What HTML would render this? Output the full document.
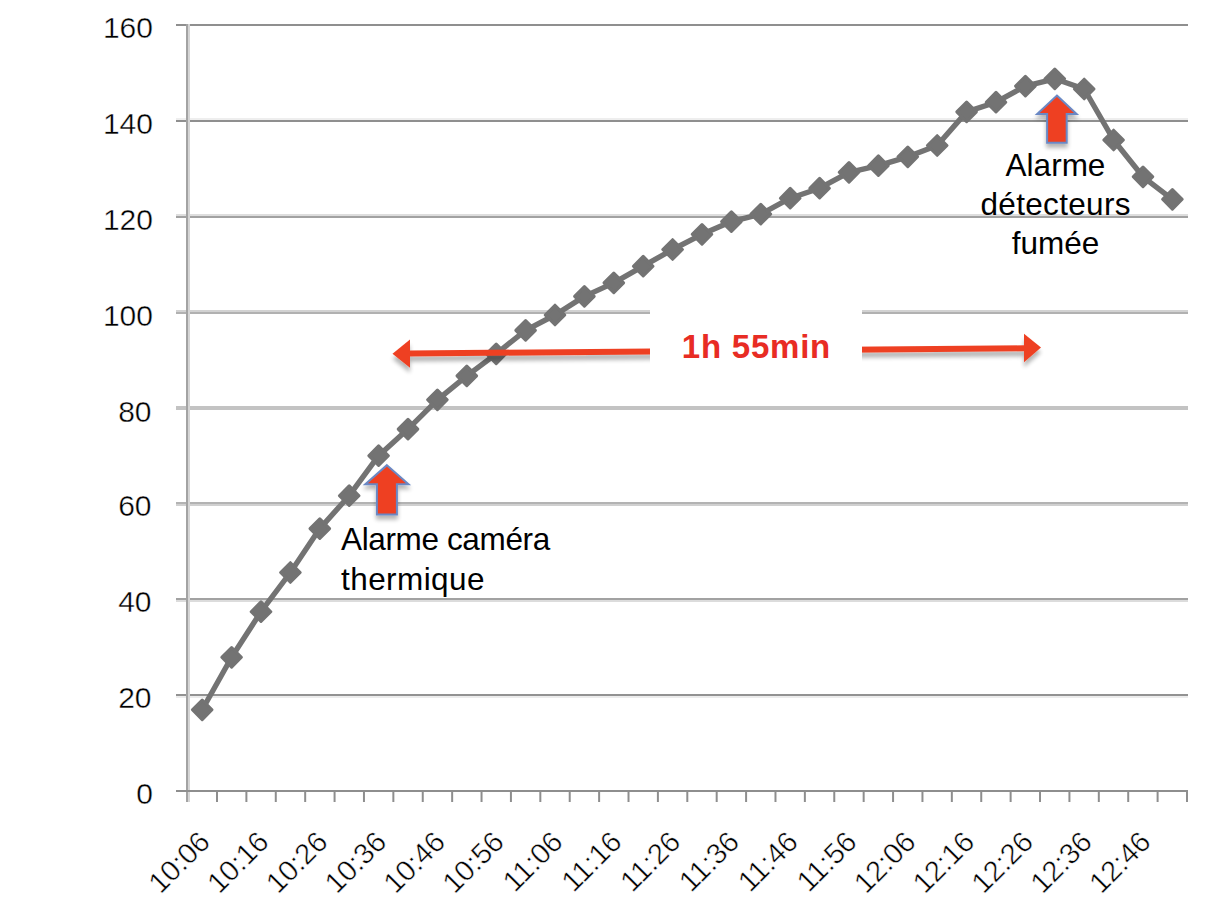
<!DOCTYPE html>
<html><head><meta charset="utf-8"><style>
html,body{margin:0;padding:0;background:#fff;width:1220px;height:922px;overflow:hidden}
svg{display:block}
text{font-family:"Liberation Sans",sans-serif}
</style></head><body>
<svg width="1220" height="922" viewBox="0 0 1220 922">
<defs>
<filter id="sh" x="-20%" y="-50%" width="140%" height="300%"><feGaussianBlur in="SourceAlpha" stdDeviation="2"/><feOffset dx="0" dy="5"/><feComponentTransfer><feFuncA type="linear" slope="0.3"/></feComponentTransfer><feMerge><feMergeNode/><feMergeNode in="SourceGraphic"/></feMerge></filter>
<filter id="sh2" x="-50%" y="-50%" width="200%" height="200%"><feGaussianBlur in="SourceAlpha" stdDeviation="2"/><feOffset dx="0" dy="4"/><feComponentTransfer><feFuncA type="linear" slope="0.3"/></feComponentTransfer><feMerge><feMergeNode/><feMergeNode in="SourceGraphic"/></feMerge></filter>
</defs>

<rect x="176" y="24" width="1012" height="2" fill="#8f8f8f"/>
<rect x="176" y="118" width="1012" height="2" fill="#eeeeee"/>
<rect x="176" y="120" width="1012" height="2" fill="#8f8f8f"/>
<rect x="176" y="214" width="1012" height="2" fill="#dedede"/>
<rect x="176" y="216" width="1012" height="2" fill="#a2a2a2"/>
<rect x="176" y="310" width="1012" height="2" fill="#d2d2d2"/>
<rect x="176" y="312" width="1012" height="2" fill="#b1b1b1"/>
<rect x="176" y="406" width="1012" height="4" fill="#c3c3c3"/>
<rect x="176" y="502" width="1012" height="2" fill="#b3b3b3"/>
<rect x="176" y="504" width="1012" height="2" fill="#d0d0d0"/>
<rect x="176" y="598" width="1012" height="2" fill="#a2a2a2"/>
<rect x="176" y="600" width="1012" height="2" fill="#dcdcdc"/>
<rect x="176" y="694" width="1012" height="2" fill="#929292"/>
<rect x="176" y="696" width="1012" height="2" fill="#ececec"/>
<rect x="186" y="24" width="2" height="778" fill="#a3a3a3"/><rect x="188" y="24" width="2" height="778" fill="#d5d5d5"/>
<rect x="176" y="790" width="1012" height="2" fill="#8e8e8e"/>
<line x1="216.99" y1="792" x2="216.99" y2="802" stroke="#8e8e8e" stroke-width="2"/>
<line x1="246.39" y1="792" x2="246.39" y2="802" stroke="#8e8e8e" stroke-width="2"/>
<line x1="275.78" y1="792" x2="275.78" y2="802" stroke="#8e8e8e" stroke-width="2"/>
<line x1="305.18" y1="792" x2="305.18" y2="802" stroke="#8e8e8e" stroke-width="2"/>
<line x1="334.57" y1="792" x2="334.57" y2="802" stroke="#8e8e8e" stroke-width="2"/>
<line x1="363.96" y1="792" x2="363.96" y2="802" stroke="#8e8e8e" stroke-width="2"/>
<line x1="393.36" y1="792" x2="393.36" y2="802" stroke="#8e8e8e" stroke-width="2"/>
<line x1="422.75" y1="792" x2="422.75" y2="802" stroke="#8e8e8e" stroke-width="2"/>
<line x1="452.15" y1="792" x2="452.15" y2="802" stroke="#8e8e8e" stroke-width="2"/>
<line x1="481.54" y1="792" x2="481.54" y2="802" stroke="#8e8e8e" stroke-width="2"/>
<line x1="510.93" y1="792" x2="510.93" y2="802" stroke="#8e8e8e" stroke-width="2"/>
<line x1="540.33" y1="792" x2="540.33" y2="802" stroke="#8e8e8e" stroke-width="2"/>
<line x1="569.72" y1="792" x2="569.72" y2="802" stroke="#8e8e8e" stroke-width="2"/>
<line x1="599.12" y1="792" x2="599.12" y2="802" stroke="#8e8e8e" stroke-width="2"/>
<line x1="628.51" y1="792" x2="628.51" y2="802" stroke="#8e8e8e" stroke-width="2"/>
<line x1="657.90" y1="792" x2="657.90" y2="802" stroke="#8e8e8e" stroke-width="2"/>
<line x1="687.30" y1="792" x2="687.30" y2="802" stroke="#8e8e8e" stroke-width="2"/>
<line x1="716.69" y1="792" x2="716.69" y2="802" stroke="#8e8e8e" stroke-width="2"/>
<line x1="746.09" y1="792" x2="746.09" y2="802" stroke="#8e8e8e" stroke-width="2"/>
<line x1="775.48" y1="792" x2="775.48" y2="802" stroke="#8e8e8e" stroke-width="2"/>
<line x1="804.87" y1="792" x2="804.87" y2="802" stroke="#8e8e8e" stroke-width="2"/>
<line x1="834.27" y1="792" x2="834.27" y2="802" stroke="#8e8e8e" stroke-width="2"/>
<line x1="863.66" y1="792" x2="863.66" y2="802" stroke="#8e8e8e" stroke-width="2"/>
<line x1="893.06" y1="792" x2="893.06" y2="802" stroke="#8e8e8e" stroke-width="2"/>
<line x1="922.45" y1="792" x2="922.45" y2="802" stroke="#8e8e8e" stroke-width="2"/>
<line x1="951.84" y1="792" x2="951.84" y2="802" stroke="#8e8e8e" stroke-width="2"/>
<line x1="981.24" y1="792" x2="981.24" y2="802" stroke="#8e8e8e" stroke-width="2"/>
<line x1="1010.63" y1="792" x2="1010.63" y2="802" stroke="#8e8e8e" stroke-width="2"/>
<line x1="1040.03" y1="792" x2="1040.03" y2="802" stroke="#8e8e8e" stroke-width="2"/>
<line x1="1069.42" y1="792" x2="1069.42" y2="802" stroke="#8e8e8e" stroke-width="2"/>
<line x1="1098.81" y1="792" x2="1098.81" y2="802" stroke="#8e8e8e" stroke-width="2"/>
<line x1="1128.21" y1="792" x2="1128.21" y2="802" stroke="#8e8e8e" stroke-width="2"/>
<line x1="1157.60" y1="792" x2="1157.60" y2="802" stroke="#8e8e8e" stroke-width="2"/>
<line x1="1187.00" y1="792" x2="1187.00" y2="802" stroke="#8e8e8e" stroke-width="2"/>
<text x="153" y="803.5" font-size="30" text-anchor="end" fill="#000" stroke="#fff" stroke-width="0.4">0</text>
<text x="151.5" y="708.0" font-size="30" text-anchor="end" fill="#000" stroke="#fff" stroke-width="0.4">20</text>
<text x="151.5" y="612.0" font-size="30" text-anchor="end" fill="#000" stroke="#fff" stroke-width="0.4">40</text>
<text x="151.5" y="515.8" font-size="30" text-anchor="end" fill="#000" stroke="#fff" stroke-width="0.4">60</text>
<text x="151.5" y="422.2" font-size="30" text-anchor="end" fill="#000" stroke="#fff" stroke-width="0.4">80</text>
<text x="153" y="326.4" font-size="30" text-anchor="end" fill="#000" stroke="#fff" stroke-width="0.4">100</text>
<text x="153" y="230.1" font-size="30" text-anchor="end" fill="#000" stroke="#fff" stroke-width="0.4">120</text>
<text x="153" y="134.1" font-size="30" text-anchor="end" fill="#000" stroke="#fff" stroke-width="0.4">140</text>
<text x="153" y="38.3" font-size="30" text-anchor="end" fill="#000" stroke="#fff" stroke-width="0.4">160</text>
<text transform="translate(211.7,843.5) rotate(-45)" font-size="29" text-anchor="end" fill="#000" stroke="#fff" stroke-width="0.5">10:06</text>
<text transform="translate(270.5,843.5) rotate(-45)" font-size="29" text-anchor="end" fill="#000" stroke="#fff" stroke-width="0.5">10:16</text>
<text transform="translate(329.3,843.5) rotate(-45)" font-size="29" text-anchor="end" fill="#000" stroke="#fff" stroke-width="0.5">10:26</text>
<text transform="translate(388.1,843.5) rotate(-45)" font-size="29" text-anchor="end" fill="#000" stroke="#fff" stroke-width="0.5">10:36</text>
<text transform="translate(446.9,843.5) rotate(-45)" font-size="29" text-anchor="end" fill="#000" stroke="#fff" stroke-width="0.5">10:46</text>
<text transform="translate(505.7,843.5) rotate(-45)" font-size="29" text-anchor="end" fill="#000" stroke="#fff" stroke-width="0.5">10:56</text>
<text transform="translate(564.5,843.5) rotate(-45)" font-size="29" text-anchor="end" fill="#000" stroke="#fff" stroke-width="0.5">11:06</text>
<text transform="translate(623.3,843.5) rotate(-45)" font-size="29" text-anchor="end" fill="#000" stroke="#fff" stroke-width="0.5">11:16</text>
<text transform="translate(682.1,843.5) rotate(-45)" font-size="29" text-anchor="end" fill="#000" stroke="#fff" stroke-width="0.5">11:26</text>
<text transform="translate(740.9,843.5) rotate(-45)" font-size="29" text-anchor="end" fill="#000" stroke="#fff" stroke-width="0.5">11:36</text>
<text transform="translate(799.7,843.5) rotate(-45)" font-size="29" text-anchor="end" fill="#000" stroke="#fff" stroke-width="0.5">11:46</text>
<text transform="translate(858.5,843.5) rotate(-45)" font-size="29" text-anchor="end" fill="#000" stroke="#fff" stroke-width="0.5">11:56</text>
<text transform="translate(917.3,843.5) rotate(-45)" font-size="29" text-anchor="end" fill="#000" stroke="#fff" stroke-width="0.5">12:06</text>
<text transform="translate(976.1,843.5) rotate(-45)" font-size="29" text-anchor="end" fill="#000" stroke="#fff" stroke-width="0.5">12:16</text>
<text transform="translate(1034.9,843.5) rotate(-45)" font-size="29" text-anchor="end" fill="#000" stroke="#fff" stroke-width="0.5">12:26</text>
<text transform="translate(1093.7,843.5) rotate(-45)" font-size="29" text-anchor="end" fill="#000" stroke="#fff" stroke-width="0.5">12:36</text>
<text transform="translate(1152.5,843.5) rotate(-45)" font-size="29" text-anchor="end" fill="#000" stroke="#fff" stroke-width="0.5">12:46</text>
<polyline points="202.2,709.8 231.6,657.3 261.0,611.7 290.4,572.5 319.8,528.6 349.2,495.7 378.6,455.7 408.0,429.1 437.4,399.8 466.8,375.9 496.2,353.8 525.6,330.4 555.0,315.0 584.4,296.4 613.8,282.9 643.2,266.2 672.6,249.5 702.0,234.3 731.4,221.6 760.8,214.1 790.2,198.2 819.6,188.2 849.0,172.3 878.4,165.7 907.8,156.8 937.2,145.5 966.6,111.9 996.0,102.2 1025.4,86.1 1054.8,78.8 1084.2,89.0 1113.6,140.0 1143.0,176.8 1172.4,199.3" fill="none" stroke="#737373" stroke-width="5.4" stroke-linejoin="round"/>
<path d="M202.2 700.0L212.0 709.8L202.2 719.6L192.4 709.8Z" fill="#737373" stroke="#737373" stroke-width="3" stroke-linejoin="round"/>
<path d="M231.6 647.5L241.4 657.3L231.6 667.1L221.8 657.3Z" fill="#737373" stroke="#737373" stroke-width="3" stroke-linejoin="round"/>
<path d="M261.0 601.9L270.8 611.7L261.0 621.5L251.2 611.7Z" fill="#737373" stroke="#737373" stroke-width="3" stroke-linejoin="round"/>
<path d="M290.4 562.7L300.2 572.5L290.4 582.3L280.6 572.5Z" fill="#737373" stroke="#737373" stroke-width="3" stroke-linejoin="round"/>
<path d="M319.8 518.8L329.6 528.6L319.8 538.4L310.0 528.6Z" fill="#737373" stroke="#737373" stroke-width="3" stroke-linejoin="round"/>
<path d="M349.2 485.9L359.0 495.7L349.2 505.5L339.4 495.7Z" fill="#737373" stroke="#737373" stroke-width="3" stroke-linejoin="round"/>
<path d="M378.6 445.9L388.4 455.7L378.6 465.5L368.8 455.7Z" fill="#737373" stroke="#737373" stroke-width="3" stroke-linejoin="round"/>
<path d="M408.0 419.3L417.8 429.1L408.0 438.9L398.2 429.1Z" fill="#737373" stroke="#737373" stroke-width="3" stroke-linejoin="round"/>
<path d="M437.4 390.0L447.2 399.8L437.4 409.6L427.6 399.8Z" fill="#737373" stroke="#737373" stroke-width="3" stroke-linejoin="round"/>
<path d="M466.8 366.1L476.6 375.9L466.8 385.7L457.0 375.9Z" fill="#737373" stroke="#737373" stroke-width="3" stroke-linejoin="round"/>
<path d="M496.2 344.0L506.0 353.8L496.2 363.6L486.4 353.8Z" fill="#737373" stroke="#737373" stroke-width="3" stroke-linejoin="round"/>
<path d="M525.6 320.6L535.4 330.4L525.6 340.2L515.8 330.4Z" fill="#737373" stroke="#737373" stroke-width="3" stroke-linejoin="round"/>
<path d="M555.0 305.2L564.8 315.0L555.0 324.8L545.2 315.0Z" fill="#737373" stroke="#737373" stroke-width="3" stroke-linejoin="round"/>
<path d="M584.4 286.6L594.2 296.4L584.4 306.2L574.6 296.4Z" fill="#737373" stroke="#737373" stroke-width="3" stroke-linejoin="round"/>
<path d="M613.8 273.1L623.6 282.9L613.8 292.7L604.0 282.9Z" fill="#737373" stroke="#737373" stroke-width="3" stroke-linejoin="round"/>
<path d="M643.2 256.4L653.0 266.2L643.2 276.0L633.4 266.2Z" fill="#737373" stroke="#737373" stroke-width="3" stroke-linejoin="round"/>
<path d="M672.6 239.7L682.4 249.5L672.6 259.3L662.8 249.5Z" fill="#737373" stroke="#737373" stroke-width="3" stroke-linejoin="round"/>
<path d="M702.0 224.5L711.8 234.3L702.0 244.1L692.2 234.3Z" fill="#737373" stroke="#737373" stroke-width="3" stroke-linejoin="round"/>
<path d="M731.4 211.8L741.2 221.6L731.4 231.4L721.6 221.6Z" fill="#737373" stroke="#737373" stroke-width="3" stroke-linejoin="round"/>
<path d="M760.8 204.3L770.6 214.1L760.8 223.9L751.0 214.1Z" fill="#737373" stroke="#737373" stroke-width="3" stroke-linejoin="round"/>
<path d="M790.2 188.4L800.0 198.2L790.2 208.0L780.4 198.2Z" fill="#737373" stroke="#737373" stroke-width="3" stroke-linejoin="round"/>
<path d="M819.6 178.4L829.4 188.2L819.6 198.0L809.8 188.2Z" fill="#737373" stroke="#737373" stroke-width="3" stroke-linejoin="round"/>
<path d="M849.0 162.5L858.8 172.3L849.0 182.1L839.2 172.3Z" fill="#737373" stroke="#737373" stroke-width="3" stroke-linejoin="round"/>
<path d="M878.4 155.9L888.2 165.7L878.4 175.5L868.6 165.7Z" fill="#737373" stroke="#737373" stroke-width="3" stroke-linejoin="round"/>
<path d="M907.8 147.0L917.6 156.8L907.8 166.6L898.0 156.8Z" fill="#737373" stroke="#737373" stroke-width="3" stroke-linejoin="round"/>
<path d="M937.2 135.7L947.0 145.5L937.2 155.3L927.4 145.5Z" fill="#737373" stroke="#737373" stroke-width="3" stroke-linejoin="round"/>
<path d="M966.6 102.1L976.4 111.9L966.6 121.7L956.8 111.9Z" fill="#737373" stroke="#737373" stroke-width="3" stroke-linejoin="round"/>
<path d="M996.0 92.4L1005.8 102.2L996.0 112.0L986.2 102.2Z" fill="#737373" stroke="#737373" stroke-width="3" stroke-linejoin="round"/>
<path d="M1025.4 76.3L1035.2 86.1L1025.4 95.9L1015.6 86.1Z" fill="#737373" stroke="#737373" stroke-width="3" stroke-linejoin="round"/>
<path d="M1054.8 69.0L1064.6 78.8L1054.8 88.6L1045.0 78.8Z" fill="#737373" stroke="#737373" stroke-width="3" stroke-linejoin="round"/>
<path d="M1084.2 79.2L1094.0 89.0L1084.2 98.8L1074.4 89.0Z" fill="#737373" stroke="#737373" stroke-width="3" stroke-linejoin="round"/>
<path d="M1113.6 130.2L1123.4 140.0L1113.6 149.8L1103.8 140.0Z" fill="#737373" stroke="#737373" stroke-width="3" stroke-linejoin="round"/>
<path d="M1143.0 167.0L1152.8 176.8L1143.0 186.6L1133.2 176.8Z" fill="#737373" stroke="#737373" stroke-width="3" stroke-linejoin="round"/>
<path d="M1172.4 189.5L1182.2 199.3L1172.4 209.1L1162.6 199.3Z" fill="#737373" stroke="#737373" stroke-width="3" stroke-linejoin="round"/>
<path filter="url(#sh2)" d="M386.9 465.2L408.5 484.2L396.9 484.2L396.9 514.5L376.9 514.5L376.9 484.2L365.29999999999995 484.2Z" fill="#ee4023" stroke="#6a88c4" stroke-width="2"/>
<path filter="url(#sh2)" d="M1056.9 95.5L1076.6000000000001 114L1066.7 114L1066.7 142.8L1047.1000000000001 142.8L1047.1000000000001 114L1037.2 114Z" fill="#ee4023" stroke="#6a88c4" stroke-width="2"/>
<g filter="url(#sh)"><path d="M409,353.4 L1025,348.3" stroke="#ee4023" stroke-width="6"/><path d="M392.5,353.8 L410,339.4 L410,367.8Z" fill="#ee4023"/><path d="M1041,347.5 L1024,333.8 L1024,362.2Z" fill="#ee4023"/></g>
<rect x="650" y="305" width="212" height="70" fill="#fff"/>
<text x="756" y="357.5" font-size="33" font-weight="bold" text-anchor="middle" fill="#e82c24" textLength="148.5" lengthAdjust="spacing">1h 55min</text>
<text x="341" y="550" font-size="31.5" fill="#000" textLength="209.2" lengthAdjust="spacing">Alarme caméra</text>
<text x="341" y="589.5" font-size="31.5" fill="#000" textLength="143.5" lengthAdjust="spacing">thermique</text>
<text x="1055.5" y="175.5" font-size="31.5" text-anchor="middle" fill="#000">Alarme</text>
<text x="1055.5" y="215.3" font-size="31.5" text-anchor="middle" fill="#000" textLength="150" lengthAdjust="spacing">détecteurs</text>
<text x="1055.5" y="253.6" font-size="31.5" text-anchor="middle" fill="#000">fumée</text>
</svg>
</body></html>
